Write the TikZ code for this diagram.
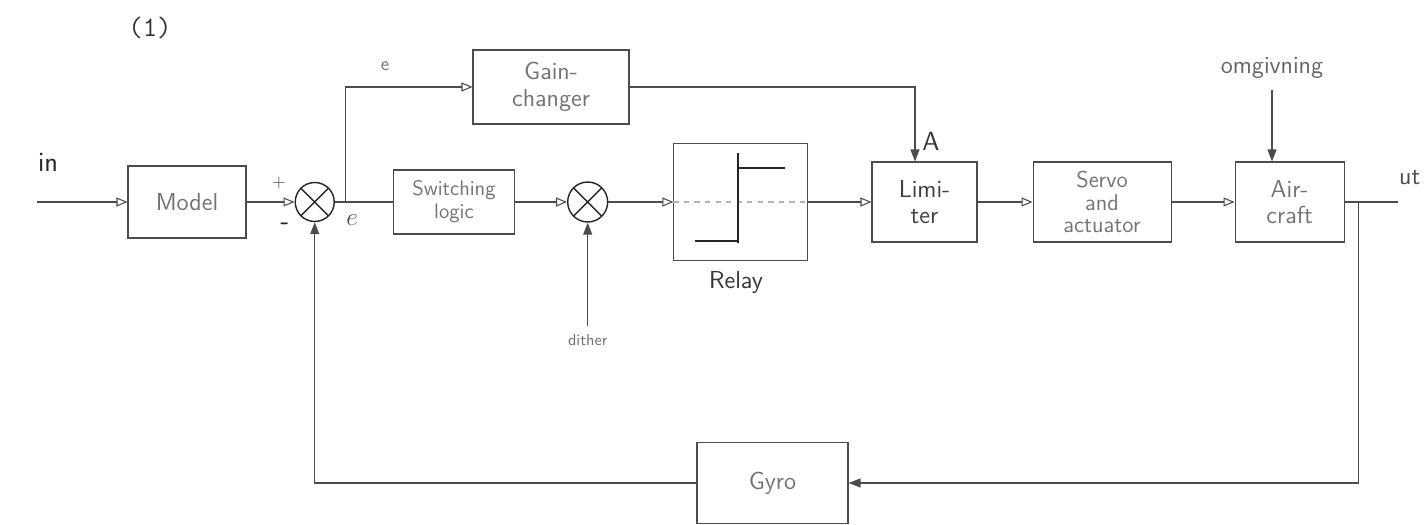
\documentclass[tikz,border=0pt]{standalone}
\usepackage{tikz}
\usetikzlibrary{arrows.meta, calc, positioning}

\begin{document}
\begin{tikzpicture}[
    node distance=1cm,
    box/.style={rectangle, draw=black!70, semithick, minimum height=1.6cm, align=center, text=black!55, font=\sffamily\fontsize{14}{15}\selectfont},
    sumjunc/.style={circle, draw=black!85, thick, minimum size=0.78cm, inner sep=0pt,
        path picture={\draw[black!85, thick] (path picture bounding box.north west) -- (path picture bounding box.south east)
            (path picture bounding box.north east) -- (path picture bounding box.south west);}},
    line/.style={draw=black!70, semithick},
    arrow/.style={line, -{Triangle[open, length=2.2mm, width=1.8mm]}},
    farrow/.style={line, -{Triangle[length=2.4mm, width=1.8mm]}},
    lbl/.style={font=\sffamily\fontsize{14}{15}\selectfont, text=black!70}
]
    \useasboundingbox (0,0) rectangle (28.5,-10.48);

    % hovedgren
    \node[box, minimum width=2.36cm, minimum height=1.44cm] (model) at (3.74,-4.04) {Model};
    \node[sumjunc, right=0.96cm of model] (sum1) {};
    \node[box, right=1.16cm of sum1, minimum width=2.42cm, minimum height=1.28cm, font=\sffamily\fontsize{12}{13}\selectfont] (swlogic) {Switching\\logic};
    \node[sumjunc, right=1.04cm of swlogic, minimum size=0.8cm] (sum2) {};
    \node[box, right=1.3cm of sum2, minimum width=2.68cm, minimum height=2.34cm] (relay) {};
    \node[box, right=1.26cm of relay, minimum width=2.1cm, text=black!75] (limiter) {Limi-\\ter};
    \node[box, right=1.1cm of limiter, minimum width=2.76cm, font=\sffamily\fontsize{13}{13}\selectfont] (servo) {Servo\\and\\actuator};
    \node[box, right=1.26cm of servo, minimum width=2.18cm] (aircraft) {Air-\\craft};

    % gain og tilbakekopling
    \node[box, minimum width=3.12cm, minimum height=1.48cm] (gain) at (11.02,-1.74) {Gain-\\changer};
    \node[box, minimum width=3.02cm, minimum height=1.62cm] (gyro) at (15.45,-9.66) {Gyro};

    % relekarakteristikk
    \draw[line, draw=black!30, dashed] (relay.west) -- (relay.east);
    \draw[black!85, line width=1.2pt] ($(relay.center)+(-0.92,-0.78)$) -- ++(0.86,0)
        ($(relay.center)+(-0.06,-0.82)$) -- ++(0,1.8)
        ($(relay.center)+(-0.06,0.68)$) -- ++(0.94,0);
    \node[lbl, below=0.08cm of relay, xshift=-0.1cm, text=black!80] (relaylbl) {Relay};

    % etiketter
    \node[font=\ttfamily\fontsize{16}{18}\selectfont, text=black!80] (num) at (3.0,-0.56) {(1)};
    \node[lbl, font=\sffamily\fontsize{16}{17}\selectfont, text=black!85] (inlbl) at (0.96,-3.24) {in};
    \node[lbl, font=\sffamily\fontsize{10}{11}\selectfont] (plus) at (5.58,-3.66) {+};
    \node[lbl, font=\sffamily\bfseries\fontsize{14}{15}\selectfont, text=black!85] (minus) at (5.7,-4.52) {-};
    \node[lbl] (elbl) at (7.04,-4.4) {$e$};
    \node[lbl, font=\sffamily\fontsize{11}{12}\selectfont, text=black!55] (etop) at (7.7,-1.32) {e};
    \node[lbl, font=\sffamily\fontsize{15}{16}\selectfont, text=black!80] (albl) at (18.62,-2.82) {A};
    \node[lbl, text=black!60] (omg) at (25.44,-1.36) {omgivning};
    \node[lbl, anchor=west] (utlbl) at (27.86,-3.56) {ut};

    % forbindelser
    \coordinate (inp) at (0.74,-4.04);
    \coordinate[right=0.22cm of sum1] (br);
    \coordinate[right=0.28cm of aircraft] (br2);
    \coordinate (ut) at (27.96,-4.04);
    \coordinate[below=2.06cm of sum2] (dith);
    \node[lbl, font=\sffamily\fontsize{9}{10}\selectfont, text=black!55, below=0.05cm of dith] (dithlbl) {dither};

    \draw[arrow] (inp) -- (model);
    \draw[arrow] (model) -- (sum1);
    \draw[line] (sum1) -- (swlogic);
    \draw[arrow] (br) |- (gain);
    \draw[arrow] (swlogic) -- (sum2);
    \draw[farrow] (dith) -- (sum2);
    \draw[arrow] (sum2) -- (relay);
    \draw[arrow] (relay) -- (limiter);
    \draw[farrow] (gain) -| ([xshift=-0.19cm]limiter.north);
    \draw[arrow] (limiter) -- (servo);
    \draw[arrow] (servo) -- (aircraft);
    \draw[farrow] ([yshift=-0.1cm]omg.south) -- (omg.south |- aircraft.north);
    \draw[line] (aircraft) -- (ut);
    \draw[farrow] (br2) |- (gyro);
    \draw[farrow] (gyro) -| (sum1);
\end{tikzpicture}
\end{document}
